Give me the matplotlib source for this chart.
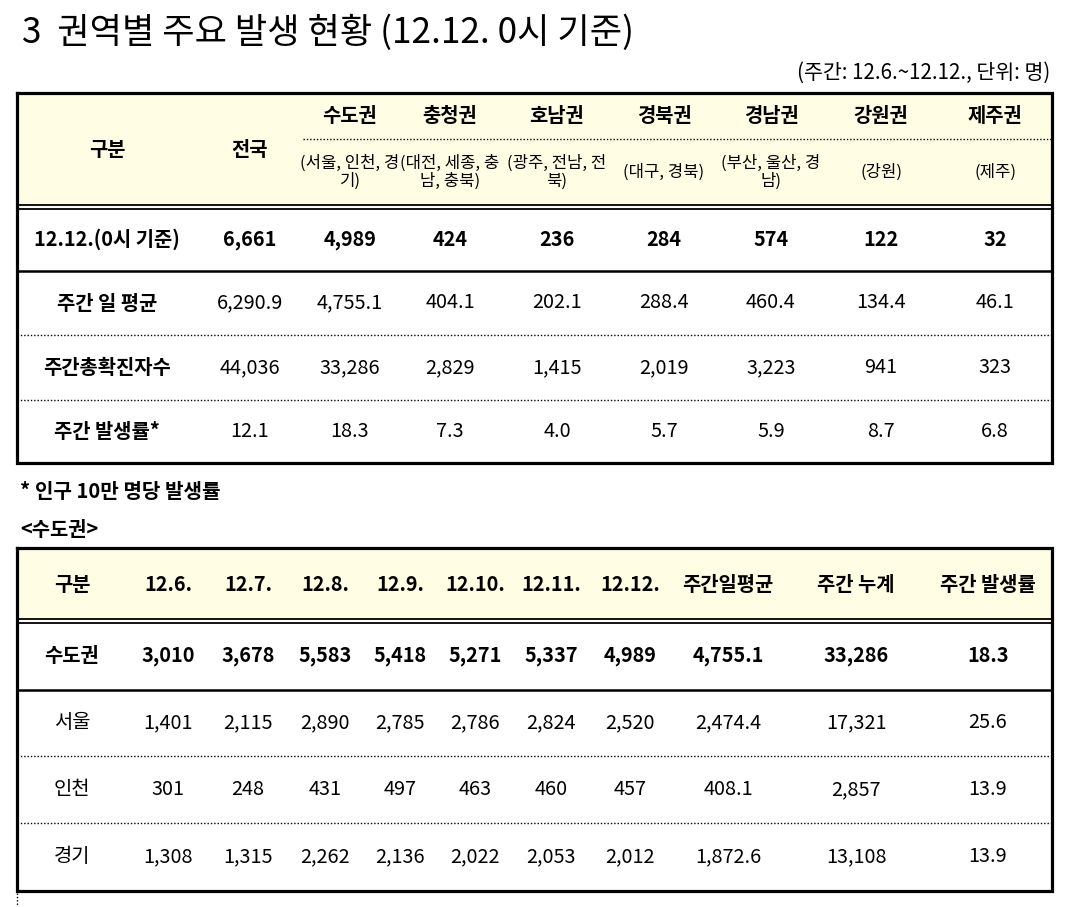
import matplotlib
matplotlib.use("Agg")
import matplotlib.pyplot as plt

plt.rcParams['font.family'] = ['Noto Sans CJK KR', 'DejaVu Sans']

# ---------------- data ----------------
title = "3  권역별 주요 발생 현황 (12.12. 0시 기준)"
unit_note = "(주간: 12.6.~12.12., 단위: 명)"
footnote = "* 인구 10만 명당 발생률"
sub_title = "<수도권>"

regions = ['전국', '수도권', '충청권', '호남권', '경북권', '경남권', '강원권', '제주권']
region_sub = ['', '(서울, 인천, 경\n기)', '(대전, 세종, 충\n남, 충북)', '(광주, 전남, 전\n북)',
              '(대구, 경북)', '(부산, 울산, 경\n남)', '(강원)', '(제주)']
row_labels1 = ['12.12.(0시 기준)', '주간 일 평균', '주간총확진자수', '주간 발생률*']
cases_1212 = [6661, 4989, 424, 236, 284, 574, 122, 32]
daily_avg = [6290.9, 4755.1, 404.1, 202.1, 288.4, 460.4, 134.4, 46.1]
weekly_total = [44036, 33286, 2829, 1415, 2019, 3223, 941, 323]
weekly_rate = [12.1, 18.3, 7.3, 4.0, 5.7, 5.9, 8.7, 6.8]

dates = ['12.6.', '12.7.', '12.8.', '12.9.', '12.10.', '12.11.', '12.12.']
summary_cols = ['주간일평균', '주간 누계', '주간 발생률']
metro_rows = ['수도권', '서울', '인천', '경기']
metro_total_daily = [3010, 3678, 5583, 5418, 5271, 5337, 4989]
seoul_daily = [1401, 2115, 2890, 2785, 2786, 2824, 2520]
incheon_daily = [301, 248, 431, 497, 463, 460, 457]
gyeonggi_daily = [1308, 1315, 2262, 2136, 2022, 2053, 2012]
metro_avg = [4755.1, 2474.4, 408.1, 1872.6]
metro_total = [33286, 17321, 2857, 13108]
metro_rate = [18.3, 25.6, 13.9, 13.9]


def fmt_int(v):
    return f"{v:,}"


def fmt_dec(v):
    return f"{v:,.1f}"


# ---------------- layout ----------------
W, H = 1080, 907
fig = plt.figure(figsize=(W / 100, H / 100), dpi=100)
ax = fig.add_axes([0, 0, 1, 1])
ax.set_xlim(0, W)
ax.set_ylim(H, 0)
ax.axis('off')

HEADER_FILL = '#fffde3'
FS = 14.3
L, R = 17, 1052
dot = (0, (1, 1.4))


def hline(y, x0=L, x1=R, lw=1.6, ls='-'):
    ax.plot([x0, x1], [y, y], color='black', lw=lw, ls=ls, solid_capstyle='butt')


def box(y0, y1, lw=2.3):
    ax.plot([L, R, R, L, L], [y0, y0, y1, y1, y0], color='black', lw=lw,
            solid_joinstyle='miter')


def header_fill(y0, y1):
    ax.add_patch(plt.Rectangle((L, y0), R - L, y1 - y0, facecolor=HEADER_FILL,
                               edgecolor='none', zorder=0))


# title
ax.text(22, 33, title, fontsize=25.3, va='center', ha='left')
ax.text(1050, 73, unit_note, fontsize=14.8, va='center', ha='right')

# ---------------- table 1 ----------------
t1_top, t1_head = 93, 205
t1_rows = [208, 271, 335, 400, 463]
header_fill(t1_top, t1_head)
box(t1_top, t1_rows[-1])
hline(t1_head, lw=1.3)
hline(t1_head + 3.5, lw=1.3)
hline(t1_rows[1], lw=1.8)
for y in t1_rows[2:4]:
    hline(y, lw=1.0, ls=dot)
hline(139, x0=303, x1=R, lw=1.0, ls=dot)

col1_x = [250, 350, 450, 557, 664, 771, 881, 995]
label1_x = 107

ax.text(label1_x, 150, '구분', fontsize=FS, fontweight='bold', ha='center', va='center')
ax.text(col1_x[0], 150, regions[0], fontsize=FS, fontweight='bold', ha='center', va='center')
for x, name, sub in zip(col1_x[1:], regions[1:], region_sub[1:]):
    ax.text(x, 116, name, fontsize=FS, fontweight='bold', ha='center', va='center')
    ax.text(x, 172, sub, fontsize=12, ha='center', va='center',
            multialignment='center', linespacing=1.1)

rows1 = [
    [fmt_int(v) for v in cases_1212],
    [fmt_dec(v) for v in daily_avg],
    [fmt_int(v) for v in weekly_total],
    [fmt_dec(v) for v in weekly_rate],
]
for i, (lab, vals) in enumerate(zip(row_labels1, rows1)):
    yc = (t1_rows[i] + t1_rows[i + 1]) / 2
    ax.text(label1_x, yc, lab, fontsize=FS, fontweight='bold', ha='center', va='center')
    for x, v in zip(col1_x, vals):
        ax.text(x, yc, v, fontsize=FS, fontweight='bold' if i == 0 else 'normal',
                ha='center', va='center')

# notes
ax.text(20, 492, footnote, fontsize=14.5, fontweight='bold', ha='left', va='center')
ax.text(20, 530, sub_title, fontsize=14.3, fontweight='bold', ha='left', va='center')

# ---------------- table 2 ----------------
t2_top, t2_head = 548, 619
t2_rows = [622, 690, 756, 823, 891]
header_fill(t2_top, t2_head)
box(t2_top, t2_rows[-1])
hline(t2_head, lw=1.3)
hline(t2_head + 3.5, lw=1.3)
hline(t2_rows[1], lw=1.8)
for y in t2_rows[2:4]:
    hline(y, lw=1.0, ls=dot)
ax.plot([L, L], [t2_rows[-1] + 2, H], color='black', lw=1.0, ls=dot)

label2_x = 72
date_x = [168, 248, 325, 400, 475, 551, 630]
summ_x = [728, 856, 988]

yh = (t2_top + t2_head) / 2 + 1
ax.text(label2_x, yh, '구분', fontsize=FS, fontweight='bold', ha='center', va='center')
for x, d in zip(date_x, dates):
    ax.text(x, yh, d, fontsize=FS, fontweight='bold', ha='center', va='center')
for x, s in zip(summ_x, summary_cols):
    ax.text(x, yh, s, fontsize=FS, fontweight='bold', ha='center', va='center')

daily_rows = [metro_total_daily, seoul_daily, incheon_daily, gyeonggi_daily]
for i, name in enumerate(metro_rows):
    yc = (t2_rows[i] + t2_rows[i + 1]) / 2
    wt = 'bold' if i == 0 else 'normal'
    ax.text(label2_x, yc, name, fontsize=FS, fontweight=wt, ha='center', va='center')
    for x, v in zip(date_x, daily_rows[i]):
        ax.text(x, yc, fmt_int(v), fontsize=FS, fontweight=wt, ha='center', va='center')
    summ_vals = [fmt_dec(metro_avg[i]), fmt_int(metro_total[i]), fmt_dec(metro_rate[i])]
    for x, v in zip(summ_x, summ_vals):
        ax.text(x, yc, v, fontsize=FS, fontweight=wt, ha='center', va='center')

fig.savefig('out.png', dpi=100, facecolor='white')
